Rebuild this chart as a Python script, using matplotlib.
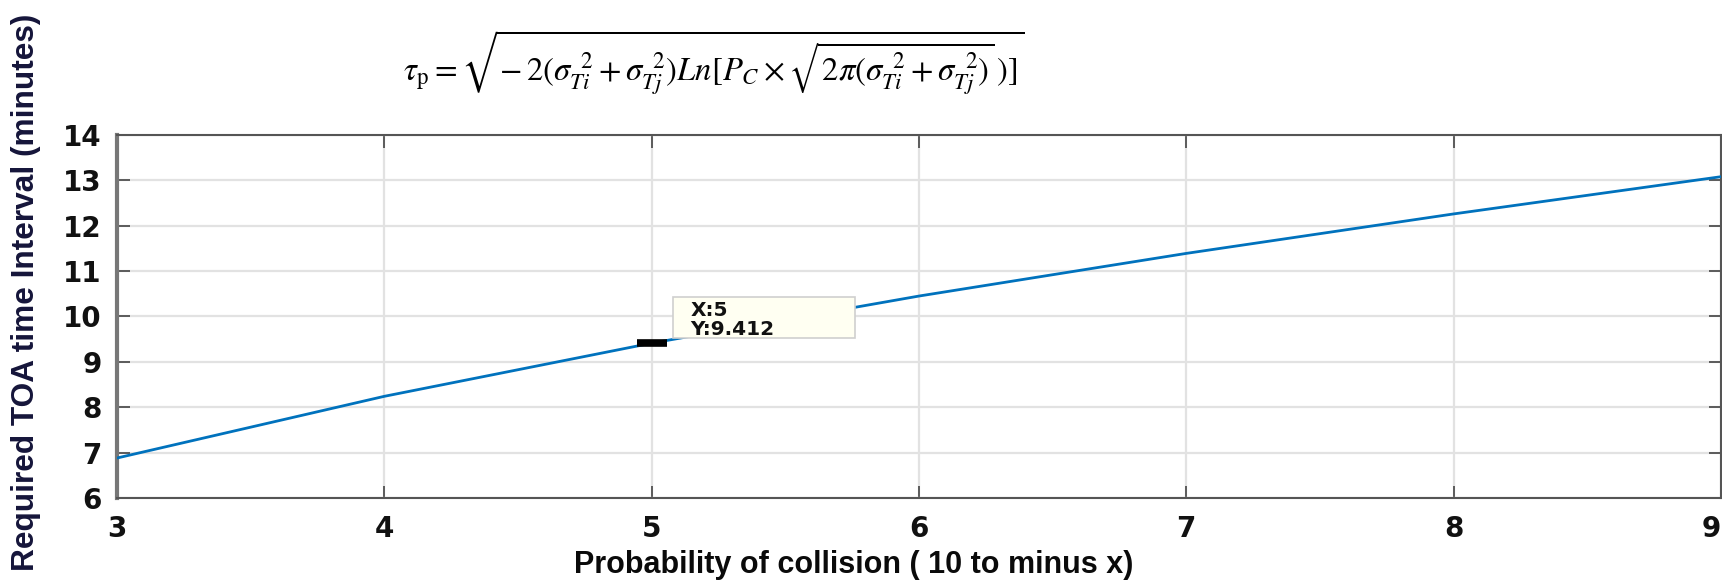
import matplotlib
matplotlib.use("Agg")
import matplotlib.pyplot as plt
from matplotlib.patches import Rectangle

# data
x_vals = [3, 4, 5, 6, 7, 8, 9]
y_vals = [6.88, 8.24, 9.412, 10.45, 11.39, 12.26, 13.08]
x_ticks = [3, 4, 5, 6, 7, 8, 9]
y_ticks = [6, 7, 8, 9, 10, 11, 12, 13, 14]
tip_x = 5
tip_y = 9.412

plt.rcParams['mathtext.fontset'] = 'stix'

fig = plt.figure(figsize=(17.22, 5.81), dpi=100)
ax = fig.add_axes([0.0679, 0.1429, 0.9315, 0.6248])

ax.plot(x_vals, y_vals, color='#0072BD', lw=2.0, zorder=3)
ax.plot([tip_x], [tip_y], marker='_', markersize=22, markeredgewidth=5.5,
        color='black', zorder=4)

ax.set_xlim(3, 9)
ax.set_ylim(6, 14)
ax.set_xticks(x_ticks)
ax.set_yticks(y_ticks)
ax.grid(True, color='#e2e2e2', lw=1.6, zorder=0)
ax.set_axisbelow(True)

for s in ax.spines.values():
    s.set_color('#555555')
    s.set_linewidth(1.5)
ax.spines['left'].set_color('#777777')
ax.spines['left'].set_linewidth(3)

ax.tick_params(axis='both', direction='in', length=9, width=1.2, color='#444444',
               top=True, right=True, labelsize=20)
ax.tick_params(axis='y', pad=11)
ax.tick_params(axis='x', pad=12)
for lab in ax.get_xticklabels() + ax.get_yticklabels():
    lab.set_fontfamily('DejaVu Sans')
    lab.set_fontweight('bold')
    lab.set_color('#111111')
ax.get_xticklabels()[-1].set_horizontalalignment('right')

# data tip
ax.add_patch(Rectangle((5.08, 9.52), 0.68, 0.90, facecolor='#fffff2', edgecolor='#cfcfcf',
                       lw=1.2, zorder=5))
ax.text(5.145, 10.34, 'X:5\nY:9.412', fontsize=14.5, fontweight='bold',
        family='DejaVu Sans', color='#111111', va='top', ha='left', linespacing=1.0,
        zorder=6)

# labels
fig.text(0.496, 0.0138, 'Probability of collision ( 10 to minus x)', fontsize=22,
         fontweight='bold', family='Liberation Sans', ha='center', va='baseline',
         color='#0a0a0a')
fig.text(0.015, 0.497, 'Required TOA time Interval (minutes)', fontsize=22.8,
         fontweight='bold', family='Liberation Sans', ha='center', va='center',
         rotation=90, color='#15153a')

formula = (r'$\tau_{\rm p} = \sqrt{-\,2(\sigma_{Ti}^{\;\;2} + \sigma_{Tj}^{\;\;2})Ln[P_C \times '
           r'\sqrt{2\pi(\sigma_{Ti}^{\;\;2} + \sigma_{Tj}^{\;\;2})}\,)]}$')
fig.text(0.4145, 0.86, formula, fontsize=23.5, ha='center', va='baseline', color='black')

fig.savefig('out.png', dpi=100)
